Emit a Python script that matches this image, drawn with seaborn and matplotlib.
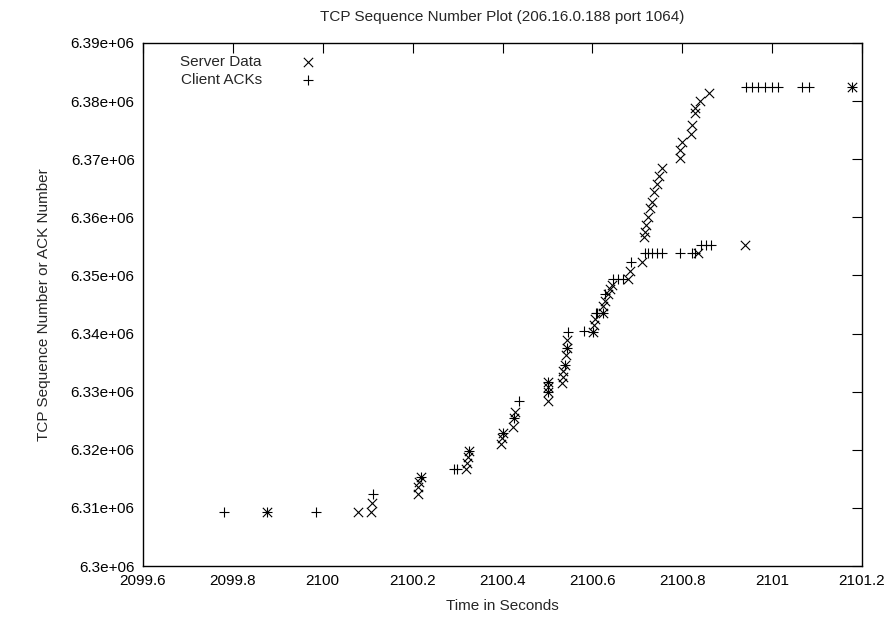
import numpy as np
import pandas as pd
import matplotlib
matplotlib.use("Agg")
import matplotlib.pyplot as plt
from matplotlib.ticker import FixedLocator, FuncFormatter
import seaborn as sns

# ---- data ----
server_t = [2099.877, 2100.079, 2100.107, 2100.109,
            2100.212, 2100.212, 2100.214, 2100.219,
            2100.319, 2100.322, 2100.324, 2100.325,
            2100.396, 2100.398, 2100.400,
            2100.423, 2100.425, 2100.428,
            2100.501, 2100.502, 2100.501, 2100.501,
            2100.532, 2100.534, 2100.535, 2100.539, 2100.541, 2100.543, 2100.544,
            2100.602, 2100.604, 2100.606, 2100.624, 2100.624, 2100.628, 2100.635, 2100.639, 2100.643,
            2100.680, 2100.684, 2100.710,
            2100.715, 2100.717, 2100.719, 2100.723, 2100.728, 2100.732, 2100.737, 2100.744, 2100.748, 2100.755,
            2100.795, 2100.795, 2100.799, 2100.819, 2100.821, 2100.828, 2100.828, 2100.839, 2100.860,
            2100.834, 2100.940, 2101.177]
server_seq = [6.30933e6, 6.30933e6, 6.30933e6, 6.31077e6,
              6.31237e6, 6.31358e6, 6.31444e6, 6.31530e6,
              6.31663e6, 6.31766e6, 6.31869e6, 6.31978e6,
              6.32098e6, 6.32196e6, 6.32282e6,
              6.32396e6, 6.32540e6, 6.32654e6,
              6.32838e6, 6.32993e6, 6.33079e6, 6.33165e6,
              6.33153e6, 6.33246e6, 6.33360e6, 6.33458e6, 6.33630e6, 6.33745e6, 6.33888e6,
              6.34034e6, 6.34146e6, 6.34255e6, 6.34353e6, 6.34473e6, 6.34564e6, 6.34688e6, 6.34761e6, 6.34835e6,
              6.34933e6, 6.35084e6, 6.35231e6,
              6.35656e6, 6.35752e6, 6.35867e6, 6.36010e6, 6.36155e6, 6.36269e6, 6.36435e6, 6.36573e6, 6.36711e6, 6.36848e6,
              6.37021e6, 6.37158e6, 6.37301e6, 6.37434e6, 6.37589e6, 6.37790e6, 6.37876e6, 6.38007e6, 6.38145e6,
              6.35385e6, 6.35532e6, 6.38238e6]

ack_t = [2099.781, 2099.877, 2099.985, 2100.111, 2100.219,
         2100.292, 2100.298, 2100.325, 2100.400, 2100.425, 2100.436,
         2100.501, 2100.501, 2100.539, 2100.543, 2100.546,
         2100.581, 2100.602, 2100.608, 2100.611, 2100.624, 2100.628,
         2100.646, 2100.657, 2100.668, 2100.687,
         2100.717, 2100.724, 2100.733, 2100.743, 2100.754, 2100.795, 2100.821, 2100.828,
         2100.841, 2100.852, 2100.863,
         2100.942, 2100.955, 2100.969, 2100.984, 2100.999, 2101.013, 2101.066, 2101.081, 2101.177]
ack_seq = [6.30933e6, 6.30933e6, 6.30933e6, 6.31237e6, 6.31530e6,
           6.31663e6, 6.31663e6, 6.31978e6, 6.32282e6, 6.32540e6, 6.32843e6,
           6.32993e6, 6.33165e6, 6.33458e6, 6.33745e6, 6.34031e6,
           6.34043e6, 6.34034e6, 6.34353e6, 6.34353e6, 6.34353e6, 6.34688e6,
           6.34933e6, 6.34933e6, 6.34933e6, 6.35236e6,
           6.35385e6, 6.35385e6, 6.35385e6, 6.35385e6, 6.35385e6, 6.35385e6, 6.35385e6, 6.35385e6,
           6.35532e6, 6.35532e6, 6.35532e6,
           6.38238e6, 6.38238e6, 6.38238e6, 6.38238e6, 6.38238e6, 6.38238e6, 6.38238e6, 6.38238e6, 6.38238e6]

x_ticks = [2099.6, 2099.8, 2100.0, 2100.2, 2100.4, 2100.6, 2100.8, 2101.0, 2101.2]
y_ticks = [6.30e6, 6.31e6, 6.32e6, 6.33e6, 6.34e6, 6.35e6, 6.36e6, 6.37e6, 6.38e6, 6.39e6]

title = "TCP Sequence Number Plot (206.16.0.188 port 1064)"
xlabel = "Time in Seconds"
ylabel = "TCP Sequence Number or ACK Number"

# ---- style ----
sns.set_theme(style="white")
plt.rcParams["font.family"] = ["Liberation Sans", "DejaVu Sans"]
plt.rcParams["axes.edgecolor"] = "black"
plt.rcParams["axes.linewidth"] = 1.0

fig = plt.figure(figsize=(8.9, 6.2), dpi=100)
ax = fig.add_axes([143 / 890, 54 / 620, (862 - 143) / 890, (566 - 43) / 620])

server_df = pd.DataFrame({"t": server_t, "seq": server_seq})
ack_df = pd.DataFrame({"t": ack_t, "seq": ack_seq})

sns.scatterplot(data=server_df, x="t", y="seq", marker="x", color="black",
                s=45, linewidth=0.8, ax=ax, label="Server Data")
sns.scatterplot(data=ack_df, x="t", y="seq", marker="+", color="black",
                s=55, linewidth=0.8, ax=ax, label="Client ACKs")

ax.set_xlim(2099.6, 2101.2)
ax.set_ylim(6.30e6, 6.39e6)
ax.xaxis.set_major_locator(FixedLocator(x_ticks))
ax.yaxis.set_major_locator(FixedLocator(y_ticks))
fmt = FuncFormatter(lambda v, p: "%g" % v)
ax.xaxis.set_major_formatter(fmt)
ax.yaxis.set_major_formatter(fmt)
ax.tick_params(direction="in", length=7, width=0.8, colors="black",
               top=True, right=True, labelsize=11, pad=6)
for sp in ax.spines.values():
    sp.set_visible(True)
    sp.set_color("black")

ax.set_xlabel(xlabel, fontsize=11, labelpad=8)
ax.set_ylabel(ylabel, fontsize=11, labelpad=14)
fig.suptitle(title, fontsize=11, x=(143 + 862) / 2 / 890, y=1 - 10 / 620, va="top")

leg = ax.legend(loc="upper left", bbox_to_anchor=(0.035, 1.0), frameon=False,
                markerfirst=False, fontsize=11, handletextpad=2.0,
                labelspacing=0.25, borderaxespad=0.4)

fig.savefig("out.png", dpi=100)
